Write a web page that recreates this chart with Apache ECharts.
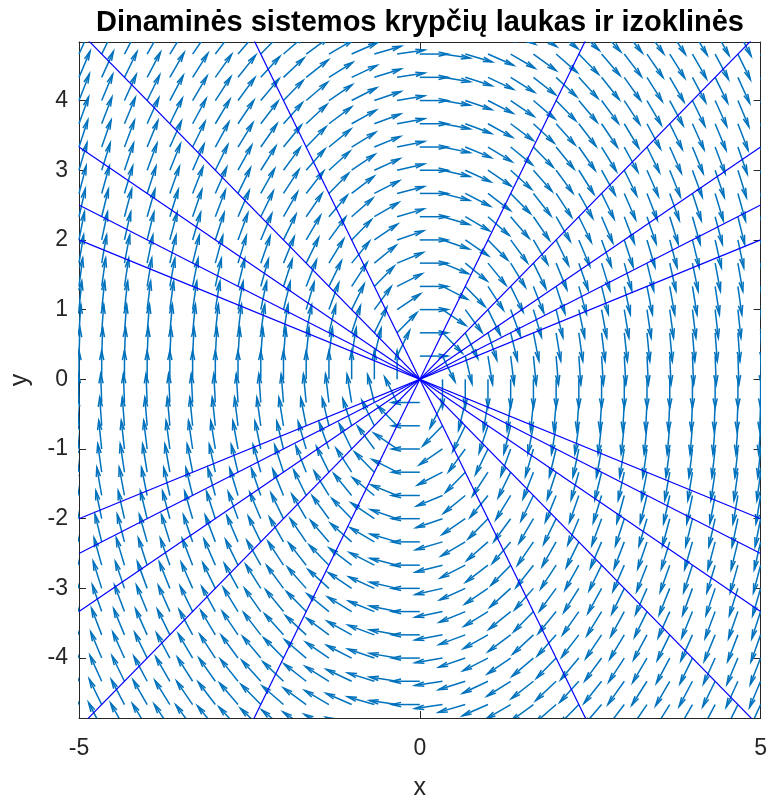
<!DOCTYPE html>
<html><head><meta charset="utf-8">
<script src="https://cdn.jsdelivr.net/npm/echarts@6/dist/echarts.min.js"></script>
<style>html,body{margin:0;padding:0;background:#fff}#c{width:770px;height:806px}</style>
</head><body><div id="c"></div>
<script>
const titleText = 'Dinaminės sistemos krypčių laukas ir izoklinės';
const xName = 'x';
const yName = 'y';
const xTicks = [-5, 0, 5];
const yTicks = [-4, -3, -2, -1, 0, 1, 2, 3, 4];
const xRange = [-5, 5];
const yRange = [-4.86, 4.84];
// quiver grid (step 1/3)
const gridX = [-5.000, -4.667, -4.333, -4.000, -3.667, -3.333, -3.000, -2.667, -2.333, -2.000, -1.667, -1.333, -1.000, -0.667, -0.333, 0, 0.333, 0.667, 1.000, 1.333, 1.667, 2.000, 2.333, 2.667, 3.000, 3.333, 3.667, 4.000, 4.333, 4.667, 5.000];
const gridY = [-5.000, -4.667, -4.333, -4.000, -3.667, -3.333, -3.000, -2.667, -2.333, -2.000, -1.667, -1.333, -1.000, -0.667, -0.333, 0, 0.333, 0.667, 1.000, 1.333, 1.667, 2.000, 2.333, 2.667, 3.000, 3.333, 3.667, 4.000, 4.333, 4.667, 5.000];
// system: x' = 0*x + 1*y ; y' = -2*x + 0*y
const systemRowX = [0, 1];
const systemRowY = [-2, 0];
// isocline slopes k (dy/dx = k)
const isoclineSlopes = [-5, -4, -3, -2, -1, 1, 2, 3, 4, 5];

const FONT = "'Liberation Sans', Arial, Helvetica, sans-serif";
const AXIS_COLOR = '#262626';
const ARROW_COLOR = '#0072BD';
const ISO_COLOR = '#0000FF';
const ARROW_LEN = 0.41;

const quiverData = [];
gridX.forEach(x => gridY.forEach(y => quiverData.push([x, y])));

const isoSeries = isoclineSlopes.map(k => {
  const c = (k * systemRowX[0] - systemRowY[0]) / (systemRowY[1] - k * systemRowX[1]);
  return {
    type: 'line', xAxisIndex: 0, yAxisIndex: 0, clip: true, silent: true,
    symbol: 'none', animation: false, z: 5,
    lineStyle: { color: ISO_COLOR, width: 1.2 },
    data: [[xRange[0], c * xRange[0]], [xRange[1], c * xRange[1]]]
  };
});

function renderArrow(params, api) {
  const x = api.value(0), y = api.value(1);
  let u = systemRowX[0] * x + systemRowX[1] * y;
  let v = systemRowY[0] * x + systemRowY[1] * y;
  const m = Math.hypot(u, v);
  if (m < 1e-9) return null;
  u = u / m * ARROW_LEN; v = v / m * ARROW_LEN;
  const a = 0.33, b = 0.23;
  const p0 = api.coord([x, y]);
  const p1 = api.coord([x + u, y + v]);
  const h1 = api.coord([x + u - a * (u + b * v), y + v - a * (v - b * u)]);
  const h2 = api.coord([x + u - a * (u - b * v), y + v - a * (v + b * u)]);
  const st = { stroke: ARROW_COLOR, lineWidth: 1.5, fill: null, lineJoin: 'miter' };
  return { type: 'group', children: [
    { type: 'polyline', shape: { points: [p0, p1] }, style: st },
    { type: 'polyline', shape: { points: [h1, p1, h2] }, style: st }
  ]};
}

function mkAxis(dim, pos, range, ticks, showLabel) {
  const ax = {
    type: 'value', position: pos, min: range[0], max: range[1],
    splitLine: { show: false },
    axisLine: { show: true, onZero: false, lineStyle: { color: AXIS_COLOR, width: 1 } },
    axisTick: { show: true, inside: true, length: 7, customValues: ticks, lineStyle: { color: AXIS_COLOR, width: 1 } },
    axisLabel: { show: showLabel, customValues: ticks, color: AXIS_COLOR, fontSize: 23, fontFamily: FONT,
      margin: dim === 'x' ? 19 : 11 }
  };
  return ax;
}

const xAxes = [mkAxis('x', 'bottom', xRange, xTicks, true), mkAxis('x', 'top', xRange, xTicks, false)];
const yAxes = [mkAxis('y', 'left', yRange, yTicks, true), mkAxis('y', 'right', yRange, yTicks, false)];
Object.assign(xAxes[0], { name: xName, nameLocation: 'middle', nameGap: 58,
  nameTextStyle: { color: AXIS_COLOR, fontSize: 25, fontFamily: FONT } });
Object.assign(yAxes[0], { name: yName, nameLocation: 'middle', nameGap: 46, nameRotate: 90,
  nameTextStyle: { color: AXIS_COLOR, fontSize: 25, fontFamily: FONT } });

const chart = echarts.init(document.getElementById('c'), null, { renderer: 'canvas' });
chart.setOption({
  animation: false,
  backgroundColor: '#fff',
  grid: { left: 76, right: 8, top: 42, bottom: 79, containLabel: false },
  xAxis: xAxes,
  yAxis: yAxes,
  graphic: [{
    type: 'text', x: 420, y: 23, z: 100,
    style: { text: titleText, fontSize: 29, fontWeight: 'bold', fontFamily: FONT, fill: '#000',
      textAlign: 'center', textVerticalAlign: 'middle' }
  }],
  series: [{
    type: 'custom', xAxisIndex: 0, yAxisIndex: 0, clip: true, silent: true, z: 2,
    renderItem: renderArrow, data: quiverData
  }].concat(isoSeries)
});
</script>
</body></html>
